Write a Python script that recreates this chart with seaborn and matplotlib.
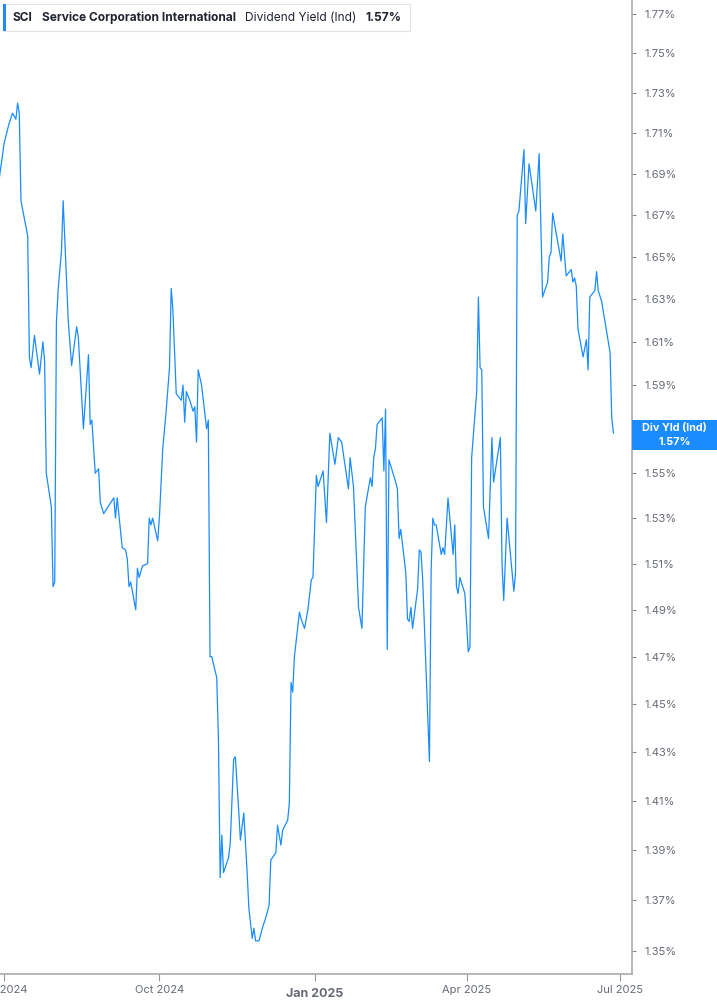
import pandas as pd
import matplotlib
matplotlib.use("Agg")
import matplotlib.pyplot as plt
import matplotlib.ticker as mticker
from matplotlib.patches import Rectangle
import seaborn as sns

# dados (datas e rendimento de dividendos em %)
datas = [
    "2024-06-28", "2024-07-01", "2024-07-04", "2024-07-06", "2024-07-08", "2024-07-09", "2024-07-10", "2024-07-11",
    "2024-07-15", "2024-07-16", "2024-07-17", "2024-07-19", "2024-07-22", "2024-07-24", "2024-07-25", "2024-07-26",
    "2024-07-29", "2024-07-30", "2024-07-31", "2024-08-01", "2024-08-02", "2024-08-04", "2024-08-05", "2024-08-08",
    "2024-08-10", "2024-08-13", "2024-08-14", "2024-08-17", "2024-08-20", "2024-08-21", "2024-08-22", "2024-08-24",
    "2024-08-26", "2024-08-27", "2024-08-29", "2024-09-04", "2024-09-05", "2024-09-06", "2024-09-09", "2024-09-11",
    "2024-09-12", "2024-09-13", "2024-09-14", "2024-09-17", "2024-09-18", "2024-09-19", "2024-09-21", "2024-09-24",
    "2024-09-25", "2024-09-26", "2024-09-27", "2024-09-30", "2024-10-01", "2024-10-03", "2024-10-05", "2024-10-07",
    "2024-10-08", "2024-10-09", "2024-10-11", "2024-10-14", "2024-10-15", "2024-10-16", "2024-10-17", "2024-10-19",
    "2024-10-21", "2024-10-22", "2024-10-23", "2024-10-24", "2024-10-26", "2024-10-29", "2024-10-30", "2024-10-31",
    "2024-11-01", "2024-11-04", "2024-11-05", "2024-11-06", "2024-11-07", "2024-11-08", "2024-11-11", "2024-11-12",
    "2024-11-14", "2024-11-15", "2024-11-17", "2024-11-18", "2024-11-20", "2024-11-22", "2024-11-23", "2024-11-25",
    "2024-11-26", "2024-11-27", "2024-11-29", "2024-12-01", "2024-12-03", "2024-12-05", "2024-12-06", "2024-12-09",
    "2024-12-10", "2024-12-12", "2024-12-13", "2024-12-16", "2024-12-17", "2024-12-18", "2024-12-19", "2024-12-20",
    "2024-12-23", "2024-12-24", "2024-12-26", "2024-12-28", "2024-12-30", "2024-12-31", "2025-01-02", "2025-01-03",
    "2025-01-06", "2025-01-08", "2025-01-10", "2025-01-13", "2025-01-15", "2025-01-17", "2025-01-21", "2025-01-22",
    "2025-01-24", "2025-01-27", "2025-01-29", "2025-01-31", "2025-02-03", "2025-02-04", "2025-02-05", "2025-02-06",
    "2025-02-07", "2025-02-10", "2025-02-11", "2025-02-12", "2025-02-13", "2025-02-14", "2025-02-18", "2025-02-19",
    "2025-02-20", "2025-02-21", "2025-02-24", "2025-02-25", "2025-02-26", "2025-02-27", "2025-02-28", "2025-03-03",
    "2025-03-04", "2025-03-05", "2025-03-06", "2025-03-10", "2025-03-11", "2025-03-12", "2025-03-13", "2025-03-14",
    "2025-03-17", "2025-03-18", "2025-03-19", "2025-03-21", "2025-03-24", "2025-03-25", "2025-03-26", "2025-03-27",
    "2025-03-28", "2025-03-31", "2025-04-02", "2025-04-03", "2025-04-04", "2025-04-07", "2025-04-08", "2025-04-09",
    "2025-04-10", "2025-04-11", "2025-04-14", "2025-04-16", "2025-04-17", "2025-04-21", "2025-04-22", "2025-04-23",
    "2025-04-25", "2025-04-29", "2025-04-30", "2025-05-01", "2025-05-02", "2025-05-05", "2025-05-06", "2025-05-08",
    "2025-05-12", "2025-05-14", "2025-05-16", "2025-05-19", "2025-05-20", "2025-05-21", "2025-05-22", "2025-05-27",
    "2025-05-28", "2025-05-30", "2025-06-02", "2025-06-03", "2025-06-04", "2025-06-05", "2025-06-06", "2025-06-09",
    "2025-06-11", "2025-06-12", "2025-06-13", "2025-06-16", "2025-06-17", "2025-06-18", "2025-06-20", "2025-06-25",
    "2025-06-26", "2025-06-27",
]

rendimento = [
    1.687, 1.705, 1.715, 1.720, 1.717, 1.725, 1.720, 1.677,
    1.660, 1.603, 1.598, 1.613, 1.595, 1.610, 1.601, 1.550,
    1.535, 1.500, 1.502, 1.619, 1.634, 1.653, 1.677, 1.620,
    1.599, 1.617, 1.612, 1.570, 1.604, 1.572, 1.574, 1.550,
    1.552, 1.537, 1.532, 1.539, 1.530, 1.539, 1.517, 1.516,
    1.512, 1.500, 1.502, 1.490, 1.508, 1.504, 1.509, 1.510,
    1.530, 1.527, 1.530, 1.520, 1.530, 1.561, 1.578, 1.598,
    1.635, 1.625, 1.586, 1.583, 1.590, 1.573, 1.587, 1.583,
    1.578, 1.580, 1.564, 1.597, 1.590, 1.570, 1.574, 1.470,
    1.470, 1.461, 1.435, 1.379, 1.396, 1.381, 1.387, 1.393,
    1.427, 1.428, 1.406, 1.394, 1.405, 1.381, 1.367, 1.355,
    1.359, 1.354, 1.354, 1.359, 1.363, 1.368, 1.386, 1.389,
    1.400, 1.392, 1.398, 1.402, 1.409, 1.459, 1.455, 1.470,
    1.489, 1.486, 1.482, 1.490, 1.503, 1.504, 1.549, 1.544,
    1.551, 1.528, 1.568, 1.554, 1.566, 1.564, 1.543, 1.557,
    1.544, 1.491, 1.482, 1.535, 1.548, 1.544, 1.557, 1.561,
    1.572, 1.575, 1.551, 1.579, 1.473, 1.556, 1.546, 1.543,
    1.521, 1.525, 1.506, 1.486, 1.485, 1.491, 1.482, 1.499,
    1.516, 1.515, 1.503, 1.426, 1.507, 1.530, 1.527, 1.527,
    1.514, 1.517, 1.514, 1.539, 1.514, 1.527, 1.500, 1.497,
    1.504, 1.497, 1.472, 1.474, 1.557, 1.587, 1.631, 1.598,
    1.597, 1.535, 1.521, 1.566, 1.546, 1.566, 1.510, 1.494,
    1.530, 1.498, 1.506, 1.670, 1.672, 1.702, 1.666, 1.695,
    1.672, 1.700, 1.631, 1.638, 1.650, 1.652, 1.671, 1.648,
    1.661, 1.641, 1.644, 1.638, 1.640, 1.636, 1.616, 1.603,
    1.611, 1.597, 1.631, 1.634, 1.643, 1.634, 1.629, 1.605,
    1.575, 1.568,
]

# 1.57% fica tapado pela caixa do último valor
ticks_y = [1.35, 1.37, 1.39, 1.41, 1.43, 1.45, 1.47, 1.49, 1.51, 1.53, 1.55,
           1.59, 1.61, 1.63, 1.65, 1.67, 1.69, 1.71, 1.73, 1.75, 1.77]
ticks_x = ["2024-07-01", "2024-10-01", "2025-01-01", "2025-04-01", "2025-07-01"]
rotulos_x = ["Jul 2024", "Oct 2024", "Jan 2025", "Apr 2025", "Jul 2025"]

# textos da legenda: (texto, negrito)
legenda = [("SCI", True), ("Service Corporation International", True),
           ("Dividend Yield (Ind)", False), ("1.57%", True)]

df = pd.DataFrame({"data": pd.to_datetime(datas), "yield": rendimento})

AZUL = "#1a8cff"
CINZA = "#666b73"
ESCURO = "#1f2430"

sns.set_style("white")
plt.rcParams["font.family"] = ["Inter", "DejaVu Sans"]

W, H = 717, 1005
fig = plt.figure(figsize=(W / 100, H / 100), dpi=100)
ax = fig.add_axes([0, 31 / H, 632 / W, 1 - 31 / H])

sns.lineplot(data=df, x="data", y="yield", ax=ax, color=AZUL, linewidth=0.9)

ax.set_yscale("log")
ax.set_ylim(1.3411, 1.7772)
ax.set_xlim(pd.Timestamp("2024-06-28 14:00"), pd.Timestamp("2025-07-08"))

# eixo Y à direita
ax.yaxis.tick_right()
ax.yaxis.set_major_locator(mticker.FixedLocator(ticks_y))
ax.yaxis.set_minor_locator(mticker.NullLocator())
ax.yaxis.set_major_formatter(mticker.FuncFormatter(lambda v, p: f"{v:.2f}%"))
ax.tick_params(axis="y", which="major", length=3, width=0.8, color="#888888",
               labelsize=8, labelcolor=CINZA, pad=6, right=True, left=False)

# eixo X
ax.set_xticks(pd.to_datetime(ticks_x))
ax.set_xticklabels(rotulos_x)
ax.tick_params(axis="x", length=5, width=0.8, color="#999999",
               labelsize=8, labelcolor=CINZA, pad=3, bottom=True)
for lbl in ax.get_xticklabels():
    if lbl.get_text() == "Jan 2025":
        lbl.set_fontweight("bold")
        lbl.set_fontsize(9)
        lbl.set_y(-0.003)

ax.set_xlabel("")
ax.set_ylabel("")
ax.grid(False)
for lado in ["top", "left"]:
    ax.spines[lado].set_visible(False)
for lado in ["bottom", "right"]:
    ax.spines[lado].set_color("#aaaaaa")
    ax.spines[lado].set_linewidth(1.2)

# caixa do último valor, presa ao eixo direito
ultimo = rendimento[-1]
fig.canvas.draw()
y_pix = ax.transData.transform((ax.get_xlim()[1], ultimo))[1]
cx = (632 + W) / 2
fig.patches.append(Rectangle((632 / W, (y_pix - 17) / H), (W - 632) / W, 30 / H,
                             transform=fig.transFigure, fc=AZUL, ec="none", zorder=5))
fig.text(cx / W, (y_pix + 5) / H, "Div Yld (Ind)", fontsize=7.8, fontweight="bold",
         color="white", ha="center", va="center", zorder=6)
fig.text(cx / W, (y_pix - 8.5) / H, f"{ultimo:.2f}%", fontsize=7.8, fontweight="bold",
         color="white", ha="center", va="center", zorder=6)

# legenda no topo
renderer = fig.canvas.get_renderer()
x_txt = 13
for texto, negrito in legenda:
    t = fig.text(x_txt / W, 1 - 18 / H, texto, fontsize=8.6,
                 fontweight="bold" if negrito else "normal", color=ESCURO, va="center", zorder=7)
    x_txt += t.get_window_extent(renderer).width + 9
largura = x_txt - 3
fig.patches.append(Rectangle((3 / W, 1 - 31 / H), largura / W, 27 / H, transform=fig.transFigure,
                             fc="white", ec="#e3e3e3", lw=0.8, zorder=5))
fig.patches.append(Rectangle((3 / W, 1 - 31 / H), 3 / W, 27 / H, transform=fig.transFigure,
                             fc=AZUL, ec="none", zorder=6))

fig.savefig("out.png", dpi=100, facecolor="white")
